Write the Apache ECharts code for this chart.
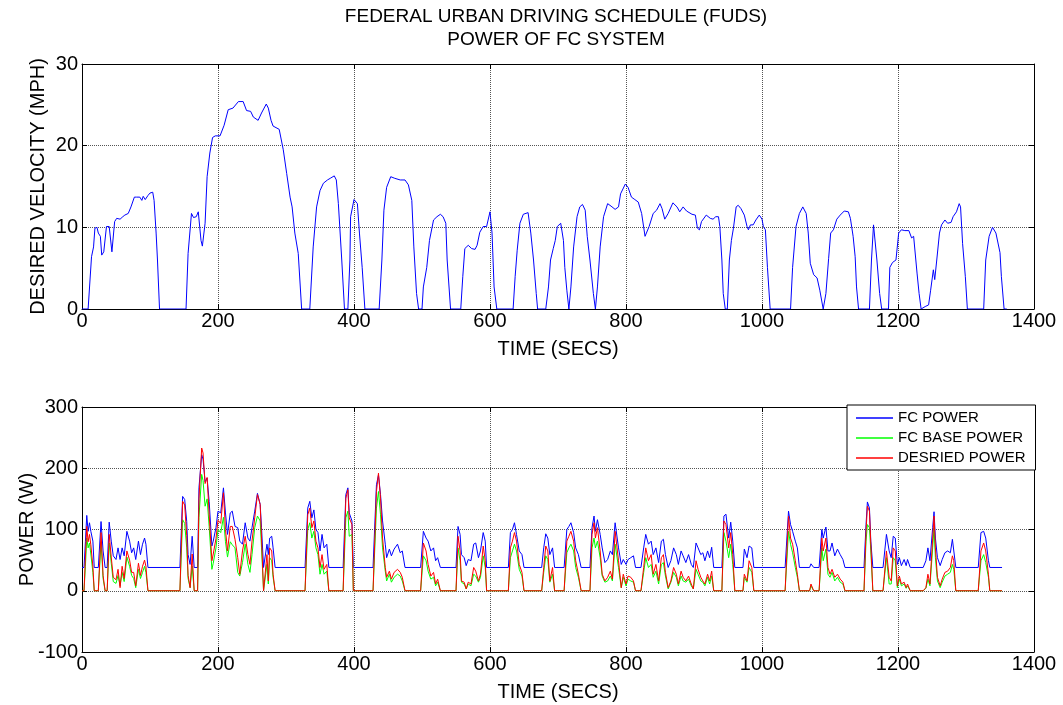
<!DOCTYPE html>
<html>
<head>
<meta charset="utf-8">
<script src="https://cdn.jsdelivr.net/npm/echarts@6/dist/echarts.min.js"></script>
<style>
html, body { margin: 0; padding: 0; background: #fff; }
#main { width: 1063px; height: 705px; }
</style>
</head>
<body>
<div id="main"></div>
<script>
// desired velocity (mph) vs time (s)
var velTime = [0, 9, 14, 17, 19, 22, 24, 27, 29, 32, 36, 40, 44, 48, 51, 56, 60, 63, 68, 72, 77, 80, 85, 88, 90, 93, 97, 100, 104, 106, 109, 111, 114,
	153, 156, 161, 164, 168, 171, 175, 177, 181, 184, 188, 192, 196, 203, 209, 215, 222, 230, 237, 242, 248, 252, 259, 264, 271, 274, 278, 281, 290, 296, 301, 306, 309, 313, 318, 323,
	335, 340, 345, 350, 355, 361, 365, 371, 374, 377, 382, 386, 391, 394, 395, 400, 405, 408, 412, 416,
	437, 441, 444, 448, 454, 460, 468, 475, 480, 485, 488, 492, 495, 500, 502, 507, 511, 517, 522, 527, 531, 535, 537, 542,
	557, 560, 563, 568, 573, 578, 581, 585, 590, 595, 600, 603, 606, 610,
	634, 637, 640, 644, 649, 656, 660, 664, 668, 670, 682, 686, 689, 693, 696, 699, 704, 708, 710, 713, 716, 719, 723, 728, 732, 736, 740, 743, 747, 752, 755,
	758, 762, 767, 773, 778, 784, 789, 792, 799, 803, 808, 813, 818, 823, 828, 830, 834, 840, 845, 850, 853, 857, 862, 869, 875, 879, 884, 889, 897, 902, 905, 908, 911, 918, 924, 928, 932, 936, 938, 941, 943, 946,
	949, 952, 955, 958, 962, 965, 969, 974, 978, 980, 983, 987, 991, 996, 1000, 1002, 1005, 1008, 1012,
	1042, 1045, 1050, 1055, 1060, 1065, 1068, 1071, 1076, 1081, 1085, 1090, 1094, 1098, 1101, 1105, 1110, 1115, 1121, 1127, 1130, 1134, 1137, 1139, 1142,
	1158, 1161, 1164, 1166, 1169, 1173, 1176, 1186, 1188, 1192, 1197, 1201, 1205, 1210, 1216, 1220, 1223, 1228, 1231, 1234, 1240, 1245, 1248, 1252, 1254, 1257, 1261, 1264, 1269, 1273, 1278, 1281, 1286, 1290, 1292, 1295, 1299, 1302,
	1326, 1329, 1334, 1339, 1344, 1350, 1352, 1356, 1360];
var velocity = [0, 0, 6.4, 7.6, 9.9, 10, 9.3, 8.9, 6.6, 7.0, 10.1, 10.1, 7.0, 10.7, 11.1, 11.0, 11.3, 11.5, 11.7, 12.5, 13.7, 13.7, 13.7, 13.3, 13.8, 13.4, 13.9, 14.2, 14.3, 13.3, 9.3, 6.0, 0,
	0, 6.8, 11.7, 11.2, 11.3, 11.9, 8.4, 7.7, 10.5, 16.2, 19.1, 21.0, 21.2, 21.2, 22.5, 24.4, 24.6, 25.4, 25.4, 24.3, 24.2, 23.5, 23.1, 24.0, 25.1, 24.6, 23.1, 22.4, 22.0, 19.5, 16.6, 13.7, 12.5, 9.3, 6.8, 0,
	0, 7.6, 12.5, 14.5, 15.4, 15.8, 16.0, 16.3, 15.8, 12.9, 6.0, 0, 0, 6.0, 11.3, 13.4, 12.9, 9.3, 5.1, 0,
	0, 6.0, 12.1, 14.9, 16.2, 16.0, 15.8, 15.8, 15.2, 13.3, 7.6, 1.9, 0, 0, 2.7, 5.1, 8.4, 10.9, 11.3, 11.6, 11.3, 10.5, 6.0, 0,
	0, 4.0, 7.4, 7.8, 7.4, 7.3, 7.8, 9.4, 10.1, 10.1, 11.9, 9.3, 2.7, 0,
	0, 4.0, 7.2, 10.5, 11.6, 11.8, 9.3, 6.0, 1.9, 0, 0, 2.7, 6.0, 7.4, 8.4, 10.1, 10.5, 8.4, 5.1, 2.3, 0, 2.7, 7.6, 11.3, 12.5, 12.8, 12.1, 8.9, 6.0, 1.9, 0,
	2.7, 7.6, 11.3, 12.9, 12.6, 12.2, 12.5, 14.1, 15.3, 14.9, 13.7, 13.4, 13.1, 11.7, 8.9, 8.7, 10.1, 11.7, 12.1, 12.9, 12.3, 11.0, 11.7, 13.0, 12.5, 11.9, 12.5, 12.0, 11.6, 11.5, 9.9, 9.7, 10.7, 11.5, 11.1, 11.0, 11.3, 11.3, 10.1, 6.0, 1.9, 0,
	0, 6.0, 8.4, 9.9, 12.5, 12.7, 12.3, 11.5, 10.1, 9.7, 10.3, 10.3, 10.9, 11.5, 11.0, 10.1, 9.7, 5.1, 0,
	0, 5.1, 10.1, 11.7, 12.5, 11.7, 9.3, 5.6, 4.2, 3.8, 2.3, 0, 1.9, 6.2, 9.3, 9.7, 11.0, 11.5, 12.0, 11.9, 11.1, 8.9, 6.4, 2.7, 0,
	0, 6.0, 10.3, 10.3, 6.0, 1.9, 0, 0, 5.1, 5.7, 6.0, 9.3, 9.7, 9.6, 9.6, 8.7, 8.9, 4.4, 1.9, 0, 0.3, 0.5, 2.3, 4.8, 3.6, 6.0, 9.3, 10.3, 10.9, 10.5, 10.6, 11.3, 11.9, 12.9, 12.5, 8.0, 4.0, 0,
	0, 6.0, 8.9, 10.0, 9.3, 6.9, 4.0, 0, 0];

// power (W) vs time (s)
var powerTime = [0, 3, 5, 7, 9, 11, 13, 16, 18, 24, 28, 31, 34, 37, 40, 43, 46, 50, 53, 56, 59, 62, 66, 70, 73, 76, 79, 83, 86, 89, 92, 94, 97,
	144, 148, 151, 154, 156, 159, 162, 165, 170, 172, 176, 178, 181, 184, 187, 191, 193, 197, 200, 204, 208, 211, 214, 218, 221, 225, 229, 232, 236, 240, 244, 247, 250, 254, 258, 262, 264, 267,
	269, 272, 274, 276, 279, 281, 284,
	328, 332, 335, 338, 341, 344, 347, 350, 353, 356, 360, 363,
	384, 388, 391, 393, 397, 399,
	428, 433, 436, 439, 442, 446, 448, 452, 455, 459, 464, 468, 471, 475,
	498, 502, 506, 509, 513, 517, 520, 523, 527,
	550, 553, 556, 558, 562, 565, 568, 572, 576, 579, 583, 586, 590, 593, 595,
	627, 630, 633, 636, 639, 643, 647, 650,
	676, 679, 682, 685, 688, 692, 695,
	709, 713, 716, 719, 723, 726, 730, 734,
	747, 750, 753, 755, 758, 762, 765, 769, 773, 777, 780, 784, 786, 789, 793, 796, 800, 803, 807, 811, 814,
	822, 826, 829, 833, 837, 840, 844, 848, 852, 855, 858, 862, 866, 870, 874, 877, 881, 884, 888, 892, 896, 899, 903, 906, 910, 913, 916, 920, 923, 926, 929,
	941, 944, 947, 951, 954, 957, 960,
	972, 974, 978, 981, 985, 988,
	1034, 1039, 1042, 1045, 1049, 1052, 1055,
	1070, 1072, 1076,
	1084, 1088, 1090, 1094, 1097, 1100, 1103, 1107, 1111, 1115, 1119, 1122,
	1150, 1153, 1155, 1158, 1160, 1163,
	1178, 1183, 1187, 1190, 1193, 1196, 1199, 1202, 1205, 1209, 1212, 1214, 1218,
	1237, 1241, 1244, 1247, 1251, 1253, 1255, 1258, 1262, 1265, 1269, 1273, 1277, 1280, 1282, 1285,
	1318, 1322, 1326, 1329, 1333, 1335, 1353];
var fcPower = [38, 38, 80, 123, 97, 111, 97, 81, 38, 38, 113, 65, 38, 38, 112, 81, 57, 51, 70, 51, 70, 57, 97, 81, 62, 70, 51, 81, 59, 76, 86, 76, 38,
	38, 154, 149, 113, 59, 43, 89, 38, 38, 168, 222, 215, 178, 184, 146, 73, 81, 103, 130, 127, 168, 127, 92, 127, 130, 105, 103, 81, 76, 111, 86, 81, 103, 130, 159, 141, 103, 38,
	38, 76, 59, 86, 89, 70, 38,
	38, 135, 146, 119, 132, 100, 95, 65, 92, 70, 76, 38,
	38, 157, 168, 127, 114, 38,
	38, 173, 189, 157, 114, 76, 54, 68, 57, 68, 76, 62, 65, 38,
	38, 97, 86, 81, 65, 70, 49, 54, 38,
	38, 105, 92, 59, 54, 41, 51, 49, 76, 78, 54, 65, 95, 81, 38,
	38, 95, 100, 111, 92, 65, 59, 38,
	38, 70, 93, 86, 59, 70, 38,
	38, 100, 105, 111, 95, 70, 59, 38,
	38, 103, 122, 97, 116, 92, 70, 46, 51, 65, 59, 111, 114, 70, 43, 51, 43, 51, 54, 57, 38,
	38, 70, 92, 76, 81, 59, 70, 46, 81, 84, 59, 38, 49, 70, 59, 43, 65, 57, 46, 59, 43, 38, 78, 70, 59, 62, 49, 65, 54, 71, 38,
	38, 122, 125, 86, 112, 81, 38,
	38, 68, 54, 73, 70, 38,
	38, 130, 108, 97, 81, 70, 38,
	38, 44, 38,
	38, 100, 86, 104, 65, 65, 78, 57, 68, 59, 51, 38,
	38, 108, 145, 135, 81, 38,
	38, 92, 65, 54, 89, 86, 43, 54, 41, 51, 41, 51, 38,
	38, 49, 70, 49, 103, 129, 86, 54, 41, 51, 62, 65, 62, 84, 81, 38,
	38, 95, 97, 86, 49, 38, 38];
var basePower = [0, 0, 40, 86, 70, 78, 60, 30, 0, 0, 80, 20, 0, 0, 78, 45, 15, 12, 25, 8, 30, 15, 55, 40, 25, 20, 5, 35, 20, 30, 40, 30, 0,
	0, 116, 110, 70, 20, 5, 40, 0, 0, 120, 190, 180, 138, 150, 105, 35, 45, 70, 100, 95, 120, 80, 55, 80, 75, 70, 30, 24, 46, 76, 43, 30, 59, 103, 122, 114, 70, 0,
	0, 43, 11, 54, 49, 22, 0,
	0, 100, 111, 86, 97, 70, 59, 27, 43, 27, 32, 0,
	0, 119, 130, 89, 92, 0,
	0, 135, 162, 124, 70, 32, 16, 27, 14, 22, 27, 24, 16, 0,
	0, 57, 49, 32, 19, 22, 8, 14, 0,
	0, 70, 49, 14, 11, 3, 11, 8, 27, 24, 14, 22, 57, 38, 0,
	0, 54, 65, 76, 65, 35, 24, 0,
	0, 30, 57, 51, 14, 27, 0,
	0, 62, 70, 76, 65, 38, 22, 0,
	0, 70, 86, 70, 81, 54, 24, 14, 16, 24, 16, 76, 73, 38, 5, 22, 8, 19, 16, 14, 0,
	0, 30, 54, 38, 43, 22, 32, 11, 43, 46, 24, 3, 14, 30, 22, 8, 24, 16, 14, 19, 8, 3, 35, 27, 16, 14, 8, 22, 11, 24, 0,
	0, 95, 81, 54, 76, 43, 0,
	0, 22, 14, 38, 30, 0,
	0, 97, 76, 62, 38, 22, 0,
	0, 8, 0,
	0, 70, 49, 68, 27, 22, 30, 16, 22, 14, 11, 0,
	0, 81, 108, 103, 65, 0,
	0, 54, 11, 11, 54, 49, 5, 19, 8, 11, 4, 8, 0,
	0, 4, 19, 8, 70, 103, 54, 16, 5, 14, 24, 27, 30, 43, 35, 0,
	0, 49, 59, 46, 22, 0, 0];
var desiredPower = [0, 0, 55, 105, 80, 92, 75, 40, 0, 0, 95, 25, 0, 0, 92, 55, 22, 18, 35, 5, 40, 20, 65, 50, 30, 30, 8, 45, 25, 40, 50, 40, 0,
	0, 146, 140, 90, 25, 5, 60, 0, 0, 150, 233, 225, 175, 185, 125, 49, 60, 85, 115, 110, 160, 100, 65, 105, 105, 84, 54, 27, 65, 89, 59, 43, 81, 119, 157, 141, 86, 0,
	0, 59, 16, 70, 65, 27, 0,
	0, 124, 135, 103, 114, 81, 70, 38, 59, 35, 43, 0,
	0, 151, 165, 119, 108, 0,
	0, 162, 192, 151, 86, 38, 22, 32, 19, 30, 35, 30, 22, 0,
	0, 78, 65, 43, 24, 30, 11, 19, 0,
	0, 89, 65, 16, 14, 3, 14, 11, 38, 32, 16, 27, 73, 49, 0,
	0, 70, 81, 95, 81, 43, 30, 0,
	0, 38, 73, 65, 16, 38, 0,
	0, 81, 89, 97, 81, 49, 27, 0,
	0, 92, 111, 86, 103, 65, 27, 16, 22, 32, 19, 97, 95, 49, 5, 27, 11, 24, 22, 16, 0,
	0, 38, 70, 49, 59, 27, 43, 16, 54, 59, 30, 5, 16, 38, 27, 11, 32, 22, 16, 24, 11, 3, 49, 35, 22, 16, 11, 27, 16, 32, 0,
	0, 114, 108, 70, 95, 59, 0,
	0, 27, 16, 49, 38, 0,
	0, 122, 86, 76, 49, 27, 0,
	0, 11, 0,
	0, 86, 65, 86, 38, 27, 35, 22, 27, 19, 14, 0,
	0, 97, 138, 130, 76, 0,
	0, 65, 22, 16, 70, 65, 8, 24, 11, 14, 5, 11, 0,
	0, 5, 27, 11, 86, 122, 70, 22, 8, 19, 30, 32, 38, 57, 49, 0,
	0, 65, 78, 65, 27, 0, 0];

var xTicks = { min: 0, max: 1400, interval: 200 };
var FONT = '"Liberation Sans", Arial, sans-serif';

function pairs(xs, ys) {
	var out = [];
	for (var i = 0; i < xs.length; i++) {
		out.push([xs[i], ys[i]]);
	}
	return out;
}
// plain numbers, no thousands separator
function plain(v) {
	return String(v);
}

// MATLAB-like boxed axes: bottom/left with labels, top/right only line + inner ticks
function mainX(grid, name) {
	return {
		type: 'value', gridIndex: grid, position: 'bottom',
		min: xTicks.min, max: xTicks.max, interval: xTicks.interval,
		name: name, nameLocation: 'middle', nameGap: 30, nameMoveOverlap: false,
		nameTextStyle: { color: '#000', fontSize: 20, fontFamily: FONT },
		axisLine: { onZero: false, lineStyle: { color: '#000', width: 1 } },
		axisTick: { inside: true, length: 5, lineStyle: { color: '#000' } },
		axisLabel: { color: '#000', fontSize: 20, fontFamily: FONT, margin: 2, formatter: plain },
		splitLine: { show: true, lineStyle: { color: '#555', type: 'dotted', width: 1 } }
	};
}
function boxX(grid) {
	return {
		type: 'value', gridIndex: grid, position: 'top',
		min: xTicks.min, max: xTicks.max, interval: xTicks.interval,
		axisLine: { onZero: false, lineStyle: { color: '#000', width: 1 } },
		axisTick: { inside: true, length: 5, lineStyle: { color: '#000' } },
		axisLabel: { show: false }, splitLine: { show: false }
	};
}
function mainY(grid, min, max, interval, name, gap) {
	return {
		type: 'value', gridIndex: grid, position: 'left',
		min: min, max: max, interval: interval,
		name: name, nameLocation: 'middle', nameGap: gap, nameMoveOverlap: false,
		nameTextStyle: { color: '#000', fontSize: 20, fontFamily: FONT },
		axisLine: { show: true, onZero: false, lineStyle: { color: '#000', width: 1 } },
		axisTick: { show: true, inside: true, length: 5, lineStyle: { color: '#000' } },
		axisLabel: { color: '#000', fontSize: 20, fontFamily: FONT, margin: 4, formatter: plain },
		splitLine: { show: true, lineStyle: { color: '#555', type: 'dotted', width: 1 } }
	};
}
function boxY(grid, min, max, interval) {
	return {
		type: 'value', gridIndex: grid, position: 'right',
		min: min, max: max, interval: interval,
		axisLine: { show: true, onZero: false, lineStyle: { color: '#000', width: 1 } },
		axisTick: { show: true, inside: true, length: 5, lineStyle: { color: '#000' } },
		axisLabel: { show: false }, splitLine: { show: false }
	};
}
function line(name, xi, yi, data, color) {
	return {
		name: name, type: 'line', xAxisIndex: xi, yAxisIndex: yi,
		data: data, showSymbol: false, symbol: 'none', animation: false,
		lineStyle: { color: color, width: 1 }, itemStyle: { color: color }
	};
}

var chart = echarts.init(document.getElementById('main'));
var option = {
	animation: false,
	backgroundColor: '#fff',
	graphic: [
		{ type: 'text', x: 556, y: 7, style: { text: 'FEDERAL URBAN DRIVING SCHEDULE (FUDS)', fill: '#000', font: '19px ' + FONT, align: 'center', textAlign: 'center' } },
		{ type: 'text', x: 556, y: 30, style: { text: 'POWER OF FC SYSTEM', fill: '#000', font: '19px ' + FONT, align: 'center', textAlign: 'center' } }
	],
	grid: [
		{ left: 82, top: 64, width: 952, height: 245 },
		{ left: 82, top: 407, width: 952, height: 245 }
	],
	legend: {
		data: ['FC POWER', 'FC BASE POWER', 'DESRIED POWER'],
		orient: 'vertical', left: 847, top: 405,
		icon: 'rect', itemWidth: 37, itemHeight: 1.5, itemGap: 4,
		padding: [5, 10, 4, 9],
		backgroundColor: '#fff', borderColor: '#000', borderWidth: 1, borderRadius: 0,
		selectedMode: false,
		textStyle: { color: '#000', fontSize: 15, fontFamily: FONT, lineHeight: 16 }
	},
	xAxis: [mainX(0, 'TIME (SECS)'), boxX(0), mainX(1, 'TIME (SECS)'), boxX(1)],
	yAxis: [
		mainY(0, 0, 30, 10, 'DESIRED VELOCITY (MPH)', 34), boxY(0, 0, 30, 10),
		mainY(1, -100, 300, 100, 'POWER (W)', 45), boxY(1, -100, 300, 100)
	],
	series: [
		line('DESIRED VELOCITY', 0, 0, pairs(velTime, velocity), '#0000ff'),
		line('FC POWER', 2, 2, pairs(powerTime, fcPower), '#0000ff'),
		line('FC BASE POWER', 2, 2, pairs(powerTime, basePower), '#00ff00'),
		line('DESRIED POWER', 2, 2, pairs(powerTime, desiredPower), '#ff0000')
	]
};
chart.setOption(option, true);
</script>
</body>
</html>
